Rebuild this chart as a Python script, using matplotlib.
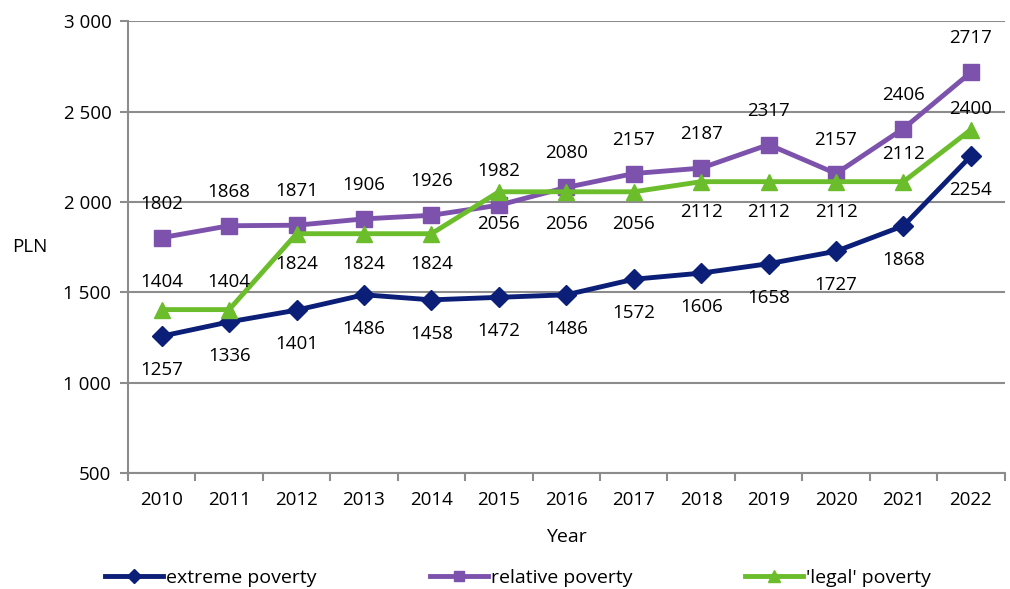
import numpy as np
import matplotlib.pyplot as plt

plt.rcParams['font.family'] = ['Open Sans', 'DejaVu Sans']

years = [str(y) for y in range(2010, 2023)]
extreme = [1257, 1336, 1401, 1486, 1458, 1472, 1486, 1572, 1606, 1658, 1727, 1868, 2254]
relative = [1802, 1868, 1871, 1906, 1926, 1982, 2080, 2157, 2187, 2317, 2157, 2406, 2717]
legal = [1404, 1404, 1824, 1824, 1824, 2056, 2056, 2056, 2112, 2112, 2112, 2112, 2400]

# label offsets in pixels (positive = above the point)
legal_offsets = [28, 28, -30, -30, -30, -32, -32, -32, -30, -30, -30, 28, 21]

navy = '#0b1f78'
purple = '#7d52ad'
green = '#6bbd2b'
grid = '#8c8c8c'
fs = 13.5

fig = plt.figure(figsize=(10.1, 5.89), dpi=100)
ax = fig.add_axes([0.1267, 0.197, 0.868, 0.767])
x = np.arange(len(years))

ax.plot(x, extreme, color=navy, lw=3.5, marker='D', ms=10, label='extreme poverty', zorder=4)
ax.plot(x, relative, color=purple, lw=3.5, marker='s', ms=11, label='relative poverty', zorder=3)
ax.plot(x, legal, color=green, lw=3.5, marker='^', ms=12, label="'legal' poverty", zorder=5)

kw = dict(textcoords='offset pixels', ha='center', va='center', fontsize=fs, zorder=6)
for i in x:
    ax.annotate(str(extreme[i]), (i, extreme[i]), xytext=(0, -34), **kw)
    ax.annotate(str(relative[i]), (i, relative[i]), xytext=(0, 34), **kw)
    ax.annotate(str(legal[i]), (i, legal[i]), xytext=(0, legal_offsets[i]), **kw)

ax.set_xlim(-0.5, len(years) - 0.5)
ax.set_ylim(500, 3000)
ax.set_yticks(np.arange(500, 3001, 500))
ax.set_yticklabels([f'{v:,}'.replace(',', ' ') for v in range(500, 3001, 500)], fontsize=fs)
ax.set_xticks(x)
ax.set_xticklabels(years, fontsize=fs)
ax.set_xticks(np.arange(-0.5, len(years)), minor=True)
ax.tick_params(axis='x', which='major', length=0, pad=13)
ax.tick_params(axis='x', which='minor', length=6, color=grid, width=1.5)
ax.tick_params(axis='y', length=6, color=grid, width=1.5, pad=6)
ax.grid(axis='y', color=grid, lw=1.5)
ax.set_axisbelow(True)
for s in ['top', 'right']:
    ax.spines[s].set_visible(False)
for s in ['left', 'bottom']:
    ax.spines[s].set_color(grid)
    ax.spines[s].set_linewidth(1.5)

ax.set_xlabel('Year', fontsize=14, labelpad=14)
ax.set_ylabel('PLN', fontsize=fs, rotation=0, labelpad=24, va='center')

fig.legend(loc='center', bbox_to_anchor=(0.513, 0.019), ncol=3, frameon=False,
           fontsize=14, handlelength=3, columnspacing=5.8, handletextpad=0.15, markerscale=0.7)

fig.savefig('out.png', dpi=100)
